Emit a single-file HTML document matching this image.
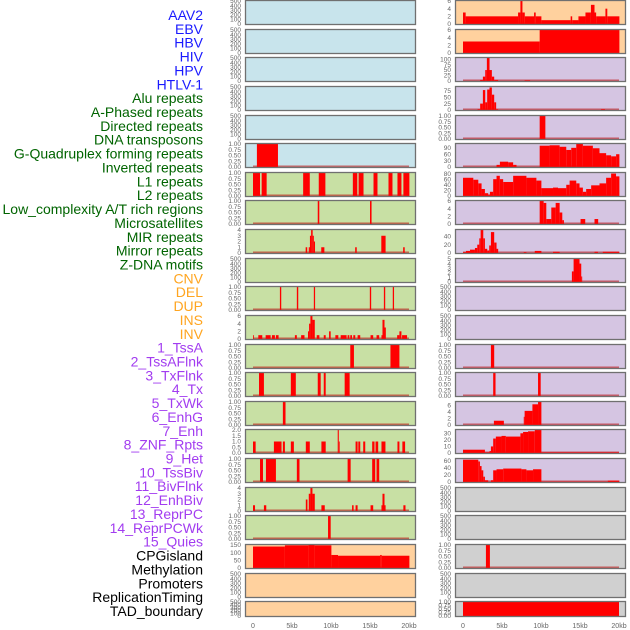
<!DOCTYPE html>
<html><head><meta charset="utf-8"><style>
html,body{margin:0;padding:0;background:#fff;width:630px;height:630px;overflow:hidden}
svg{display:block}
</style></head><body>
<svg id="chart" width="630" height="630" xmlns="http://www.w3.org/2000/svg"></svg>
<script>
const labels = ["AAV2","EBV","HBV","HIV","HPV","HTLV-1","Alu repeats","A-Phased repeats","Directed repeats","DNA transposons","G-Quadruplex forming repeats","Inverted repeats","L1 repeats","L2 repeats","Low_complexity A/T rich regions","Microsatellites","MIR repeats","Mirror repeats","Z-DNA motifs","CNV","DEL","DUP","INS","INV","1_TssA","2_TssAFlnk","3_TxFlnk","4_Tx","5_TxWk","6_EnhG","7_Enh","8_ZNF_Rpts","9_Het","10_TssBiv","11_BivFlnk","12_EnhBiv","13_ReprPC","14_ReprPCWk","15_Quies","CPGisland","Methylation","Promoters","ReplicationTiming","TAD_boundary"];
const labelColors = ["#1a1aff","#1a1aff","#1a1aff","#1a1aff","#1a1aff","#1a1aff","#006400","#006400","#006400","#006400","#006400","#006400","#006400","#006400","#006400","#006400","#006400","#006400","#006400","#ffa520","#ffa520","#ffa520","#ffa520","#ffa520","#a23cf0","#a23cf0","#a23cf0","#a23cf0","#a23cf0","#a23cf0","#a23cf0","#a23cf0","#a23cf0","#a23cf0","#a23cf0","#a23cf0","#a23cf0","#a23cf0","#a23cf0","#000","#000","#000","#000","#000"];
const xTicks = [0,5000,10000,15000,20000];
const xTickLabels = ["0","5kb","10kb","15kb","20kb"];
const leftBg = ["b","b","b","b","b","b","g","g","g","g","g","g","g","g","g","g","g","g","g","p","p","p"];
const rightBg = ["p","p","l","l","l","l","l","l","l","l","l","l","l","l","l","l","l","y","y","y","y","y"];
const leftMax = [500,500,500,500,500,1,1,1,4,500,1,6,1,1,1,2,1,4,1,150,500,500];
const rightMax = [6,6,105,90,1,108,82,6,55,5,500,500,1,1,7,35,65,500,500,1,500,1];
const leftTicks = ["E","E","E","E","E","U","U","U",[0,1,2,3,4],"E","U",[0,2,4,6],"U","U","U",[0,0.5,1,1.5,2],"U",[0,1,2,3,4],"U",[0,50,100,150],"E","E"];
const rightTicks = [[0,2,4,6],[0,2,4,6],[0,25,50,75,100],[0,25,50,75],"U",[0,30,60,90],[0,20,40,60,80],[0,2,4,6],[0,20,40],[0,1,2,3,4,5],"E","E","U","U",[0,2,4,6],[0,10,20,30],[0,20,40,60],"E","E","U","E","U"];
// segments in kb: [start, end, value]
const leftSegments = [
 [],[],[],[],[],
 [[0.5,3.2,1]],
 [[0,0.9,1],[1.11,1.75,1],[6.43,7.28,1],[8.43,9.28,1],[12.8,13.37,1],[13.54,14.17,1],[15.45,15.96,1],[17.37,17.88,1],[18.52,19.03,1],[19.28,20.05,1]],
 [[8.3,8.5,1],[15.0,15.2,1]],
 [[6.75,6.95,1],[7.15,7.3,1],[7.3,7.45,3],[7.45,7.65,4],[7.65,7.8,3],[7.8,7.95,2],[8.75,9.15,1],[13.1,13.3,1],[16.45,17.0,3],[19.25,19.45,1]],
 [],
 [[3.45,3.62,1],[5.62,5.8,1],[7.8,7.96,1],[14.98,15.15,1],[16.78,16.95,1],[17.92,18.08,1]],
 [[0,0.09,1],[0.68,1.19,1],[1.62,2.26,1],[2.43,2.81,1],[2.94,3.28,1],[5.37,5.62,1],[6.17,6.6,1],[7.05,7.19,2],[7.19,7.36,4],[7.36,7.62,6],[7.62,7.92,5],[8.17,8.51,1],[9.07,9.32,1],[9.75,9.96,2],[10.56,10.94,1],[11.24,12.0,1],[12.13,12.35,1],[12.47,12.69,1],[12.86,13.11,1],[13.41,13.75,1],[15.07,15.41,1],[15.84,16.18,1],[16.47,16.6,1],[16.6,16.86,5],[16.86,17.03,3],[18.48,18.77,1],[18.77,19.03,2],[19.11,19.75,1]],
 [[12.47,12.94,1],[17.62,18.77,1]],
 [[0.77,1.4,1],[4.85,5.49,1],[8.3,8.68,1],[9.07,9.32,1],[11.75,12.39,1]],
 [[3.83,4.17,1]],
 [[0,0.34,1],[2.68,3.66,1],[3.83,4.09,1],[4.85,5.24,1],[6.77,7.28,1],[8.77,9.32,1],[10.86,11.0,2],[11.0,11.11,1],[13.15,13.41,1],[13.5,13.75,1],[14.13,14.39,1],[15.28,15.58,1],[15.71,16.05,1],[16.47,16.98,1],[18.52,18.77,1],[19.15,19.5,1]],
 [[0.9,1.28,1],[1.66,2.94,1],[5.62,5.96,1],[12.13,12.52,1],[15.28,15.67,1],[15.84,16.18,1]],
 [[0,0.26,1],[1.4,1.7,1],[6.77,6.98,2],[7.15,7.36,3],[7.36,7.62,4],[7.62,7.92,3],[8.77,9.2,1],[12.7,12.9,1],[13.15,13.41,1],[15.07,15.41,1],[16.47,16.6,1],[16.6,16.86,3],[16.86,17.0,1],[19.28,19.55,1]],
 [[9.62,9.96,1]],
 [[0,4.09,140],[4.09,7.1,148],[7.1,7.9,152],[7.9,10.05,148],[10.05,10.9,85],[10.9,16.3,80],[16.3,16.5,85],[16.5,20.05,80]],
 [],[]
];
const rightSegments = [
 [[0,0.34,3],[0.34,7.06,2],[7.06,7.36,3],[7.36,7.62,6],[7.62,7.92,3],[7.92,9.11,2],[9.11,9.32,3],[9.32,10.05,2],[10.05,13.8,1],[13.8,14.0,2],[14.0,14.8,1],[14.8,15.7,2],[15.7,16.4,3],[16.4,16.86,5],[16.86,17.07,3],[17.07,18.26,2],[18.26,18.5,4],[18.5,20.05,2]],
 [[0,9.83,3],[9.83,20.05,6]],
 [[2.2,2.55,5],[2.55,2.85,20],[2.85,3.06,50],[3.06,3.4,105],[3.4,3.7,50],[3.7,4.0,20],[4.0,4.5,5],[7.9,8.6,3]],
 [[1.87,2.2,3],[2.2,2.55,25],[2.55,2.85,78],[2.85,3.1,30],[3.1,3.4,80],[3.4,3.7,88],[3.7,4.0,60],[4.0,4.25,30],[4.25,4.5,3],[17.7,18.2,3]],
 [[9.83,10.56,1]],
 [[4.3,4.73,10],[4.73,5.79,25],[5.79,6.43,22],[6.43,6.86,10],[9.83,11.1,100],[11.1,12.39,102],[12.39,13.24,95],[13.24,13.88,80],[13.88,14.52,90],[14.52,15.37,108],[15.37,16.65,100],[16.65,17.5,88],[17.5,18.35,65],[18.35,18.99,55],[18.99,19.63,50],[19.63,20.05,60]],
 [[0,1.32,65],[1.32,1.96,58],[1.96,2.38,45],[2.38,2.81,25],[2.81,3.23,10],[3.23,3.45,5],[3.45,3.87,15],[3.87,4.3,60],[4.3,4.72,72],[4.72,5.15,60],[5.15,6.43,50],[6.43,8.13,72],[8.13,9.41,65],[9.41,10.05,55],[10.05,11.54,28],[11.54,12.18,30],[12.18,13.24,28],[13.24,13.67,40],[13.67,14.52,55],[14.52,14.94,45],[14.94,15.37,30],[15.37,15.79,15],[15.79,16.43,25],[16.43,17.5,38],[17.5,18.35,45],[18.35,18.99,65],[18.99,19.62,80],[19.62,20.05,70]],
 [[9.83,10.34,6],[10.34,10.68,5.5],[10.68,11.32,1.3],[11.32,11.88,4.3],[11.88,12.39,5.5],[12.39,12.73,3],[12.73,12.94,1],[15.07,15.67,1.3],[16.86,17.33,1.3]],
 [[0,0.38,2],[0.38,0.9,5],[0.9,1.53,8],[1.53,1.83,12],[1.83,2.09,20],[2.09,2.26,35],[2.26,2.6,55],[2.6,2.81,35],[2.81,3.11,10],[3.11,3.36,6],[3.36,3.58,18],[3.58,4.0,50],[4.0,4.3,25],[4.3,4.51,10],[7.79,8.13,2],[9.2,10.05,5],[11.54,12.39,3],[16.86,17.3,3],[17.92,20.05,3]],
 [[13.96,14.18,2.3],[14.18,14.94,5],[14.94,15.16,4],[15.16,15.28,1.2]],
 [],[],
 [[3.58,4.0,1]],
 [[3.87,4.17,1],[9.62,9.96,1]],
 [[3.96,5.24,1.3],[7.79,7.9,2.5],[7.9,8.9,4.3],[8.9,9.62,6.3],[9.62,10.05,7.2]],
 [[0,2.81,5],[2.81,3.4,1],[3.4,3.58,3],[3.58,3.87,10],[3.87,4.21,22],[4.21,4.94,25],[4.94,5.49,26],[5.49,7.36,25],[7.36,7.7,30],[7.7,8.34,32],[8.34,9.2,33],[9.2,10.05,35],[10.05,20.0,1]],
 [[0,1.96,63],[1.96,2.17,58],[2.17,2.38,45],[2.38,2.6,33],[2.6,2.81,15],[2.81,3.23,5],[3.58,3.87,5],[3.87,4.3,33],[4.3,5.15,36],[5.15,7.49,38],[7.49,8.13,36],[8.13,8.98,33],[8.98,10.05,36],[10.05,18.56,1],[18.56,20.05,4]],
 [],[],
 [[2.94,3.45,1]],
 [],
 [[0,20,1]]
];
const bgColors = {b:"#c8e4ec",g:"#c8e0a4",p:"#ffd19e",l:"#d5c5e2",y:"#d0d0d0"};
const NS = "http://www.w3.org/2000/svg";
const svg = document.getElementById("chart");
function mk(tag, attrs, parent){const e=document.createElementNS(NS,tag);for(const k in attrs)e.setAttribute(k,attrs[k]);(parent||svg).appendChild(e);return e;}
function rowTop(i){return Math.round(i*28.63);}
function rowH(i){return i===21?16:25;}
function fmt(v,ticks){ if(ticks==="U") return v.toFixed(2); if(Array.isArray(ticks)&&ticks.some(t=>t%1!==0)) return v.toFixed(1); return String(v);}

// labels
labels.forEach((t,i)=>{
  const el = mk("text",{x:203,y:(15+i*13.86+5).toFixed(1),"text-anchor":"end","font-family":"Liberation Sans, sans-serif","font-size":"14",fill:labelColors[i]});
  el.textContent = t;
  
  
});

function drawColumn(px, bgs, maxes, ticks, segs, side){
  const x0 = px + 8, x1 = px + 164;
  const xs = kb => x0 + (x1 - x0) * kb / 20;
  for(let i=0;i<22;i++){
    const top=rowTop(i), h=rowH(i), bot=top+h;
    const g = mk("g",{});
    
    
    mk("rect",{x:px,y:top,width:171,height:h,fill:bgColors[bgs[i]]},g);
    const ymax = maxes[i];
    const ys = v => (bot-1) - (h-2) * v / ymax;
    const s = segs[i];
    if(s.length){
      const base = mk("rect",{x:xs(0),y:bot-2.5,width:xs(20)-xs(0),height:2,fill:"rgba(190,0,0,0.55)"},g);
      
      
      s.forEach(([a,b,v])=>{
        const y=ys(v);
        const r = mk("rect",{x:xs(a).toFixed(2),y:y.toFixed(2),width:Math.max(0.8,xs(b)-xs(a)).toFixed(2),height:(bot-1-y).toFixed(2),fill:"#ff0000"},g);
        
        
      });
    }
    mk("rect",{x:px+0.5,y:top+0.5,width:170,height:h-1,fill:"none",stroke:"#707070","stroke-width":"1.3"},g);
    // y ticks
    let tv = ticks[i];
    let vals;
    if(tv==="E") vals=[0,100,200,300,400,500];
    else if(tv==="U") vals=[0,0.25,0.5,0.75,1];
    else vals=tv;
    vals.forEach(v=>{
      const t = mk("text",{x:px-4,y:(ys(v)+2.2).toFixed(1),"text-anchor":"end","font-family":"Liberation Sans, sans-serif","font-size":"6.5",fill:"#666"},g);
      t.textContent = fmt(v,tv);
      
      
    });
  }
  xTicks.forEach((v,k)=>{
    const t = mk("text",{x:xs(v/1000),y:628,"text-anchor":"middle","font-family":"Liberation Sans, sans-serif","font-size":"7",fill:"#666"});
    t.textContent = xTickLabels[k];
    
    
  });
}
drawColumn(245, leftBg, leftMax, leftTicks, leftSegments, "left");
drawColumn(455, rightBg, rightMax, rightTicks, rightSegments, "right");
</script>
</body></html>
